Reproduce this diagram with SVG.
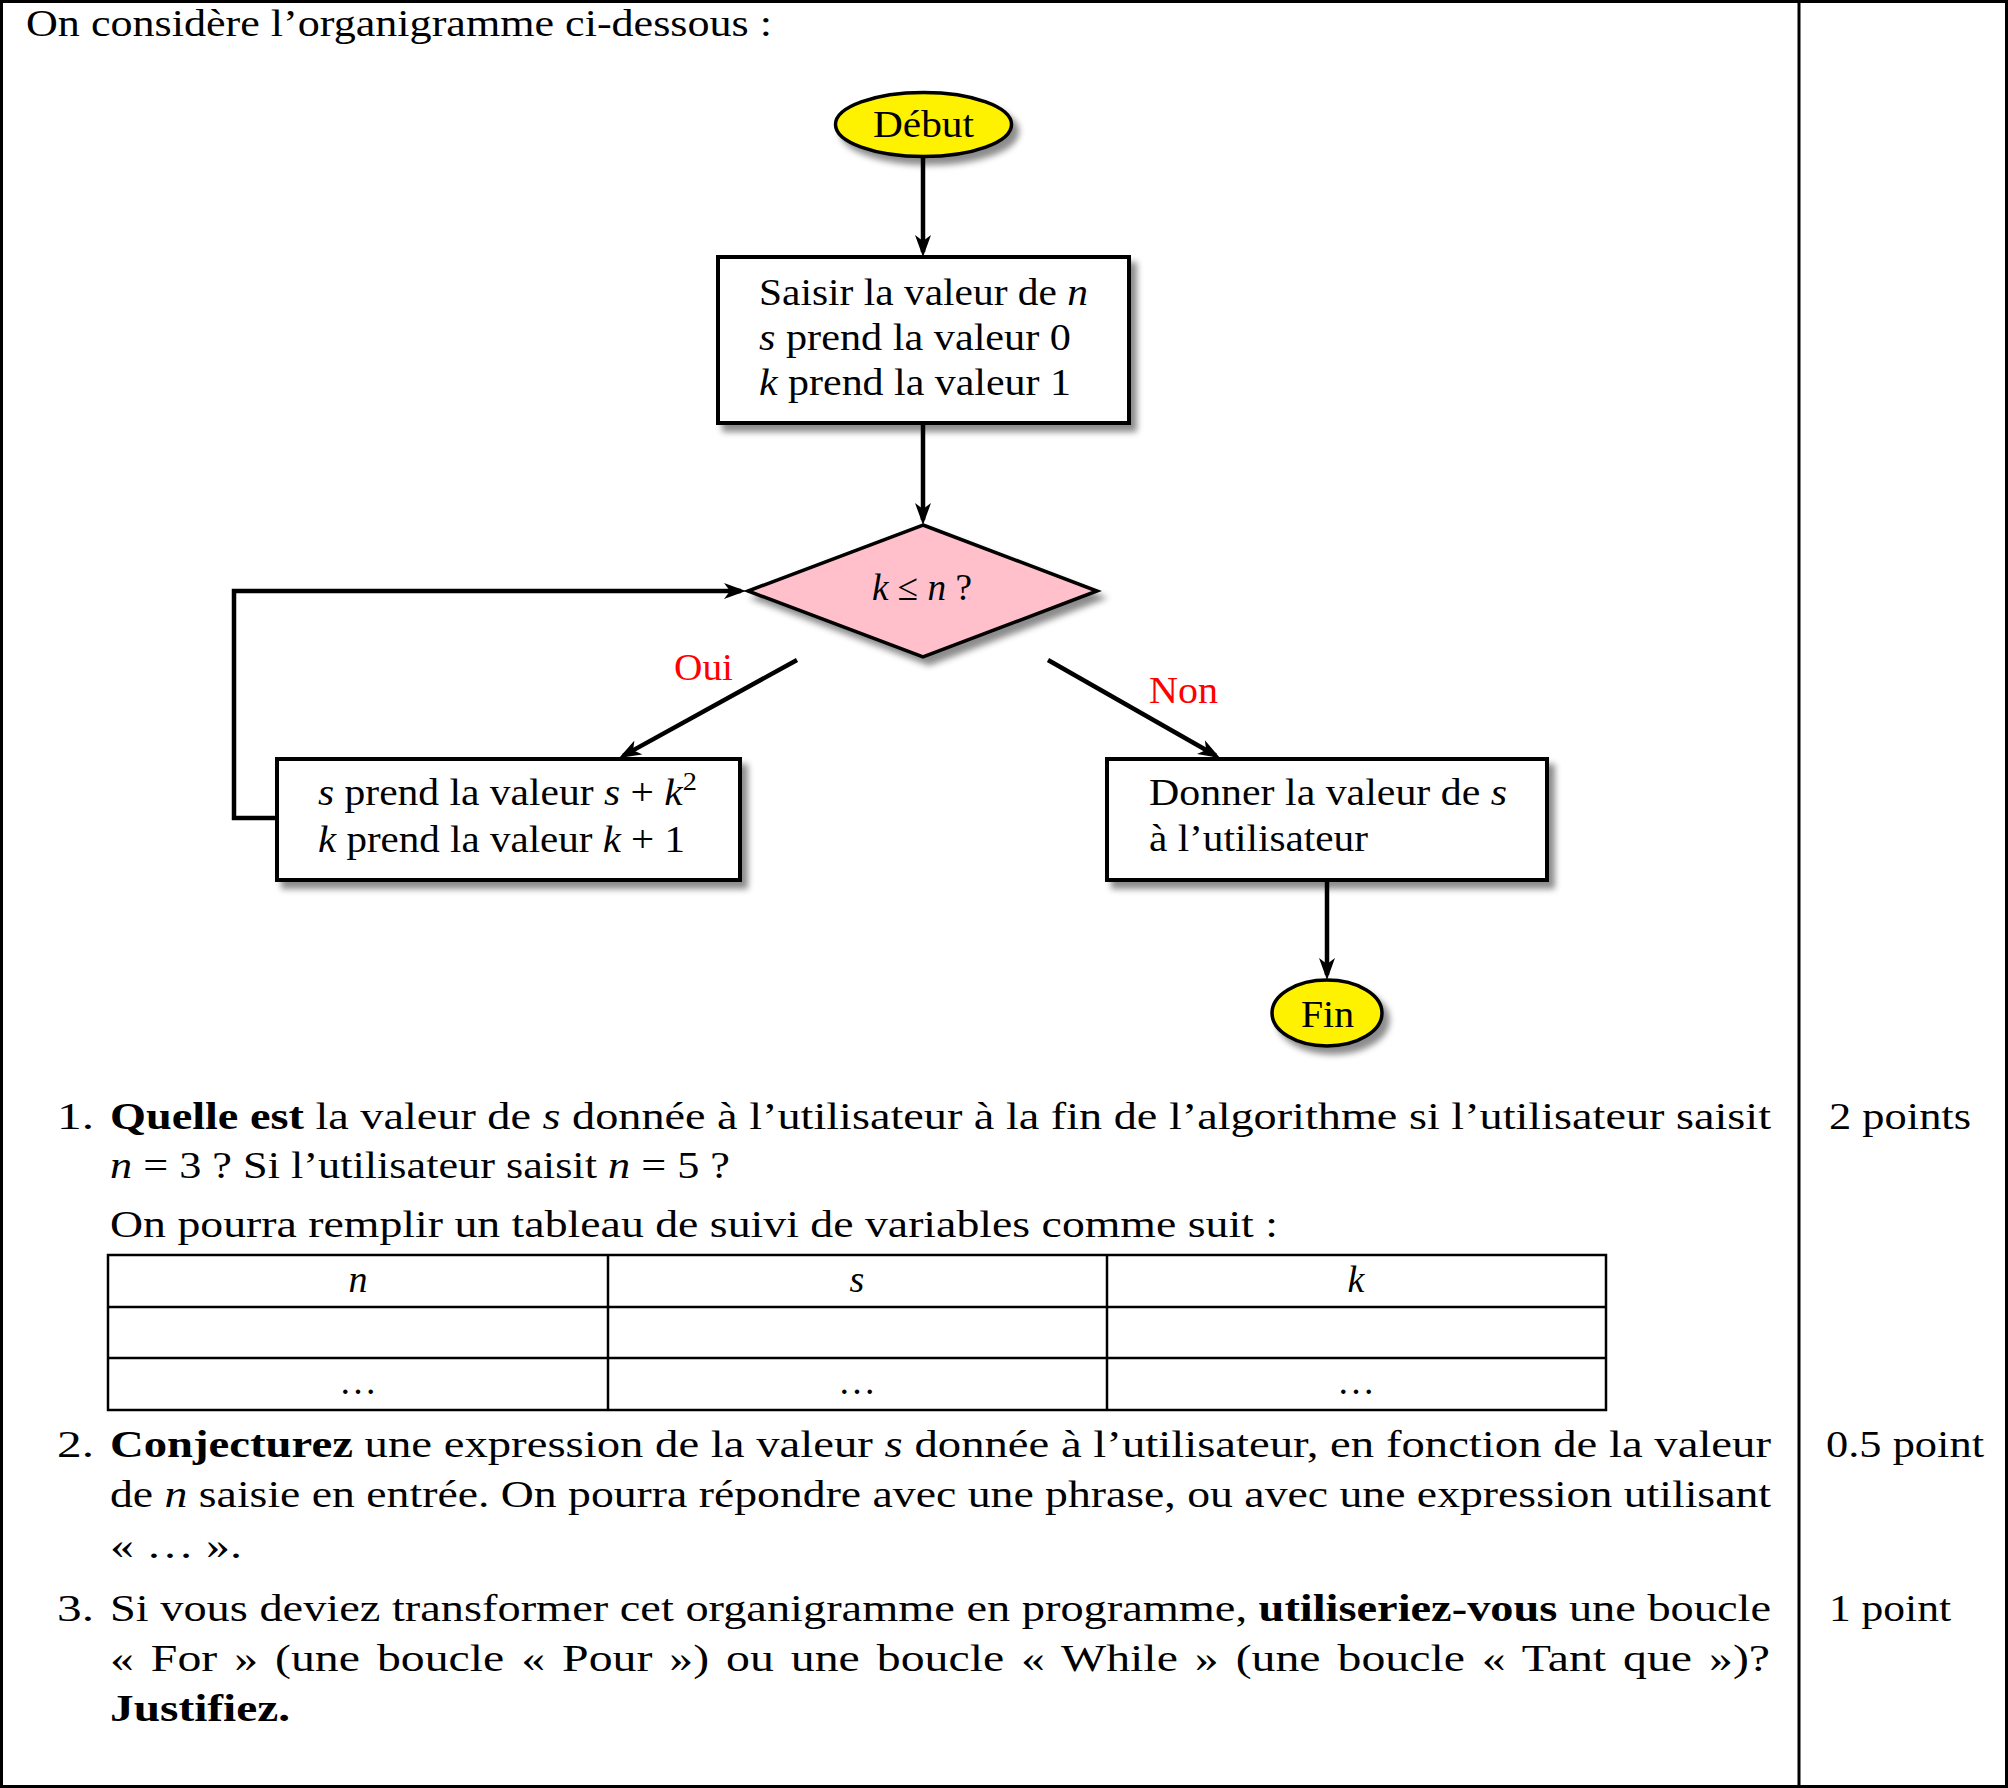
<svg xmlns="http://www.w3.org/2000/svg" width="2008" height="1788" viewBox="0 0 2008 1788">
<style>
text { font-family: "Liberation Serif", "Times New Roman", serif; fill: #000; font-size: 38px; }
.it { font-style: italic; }
.b { font-weight: bold; }
.red { fill: #ff0000; }
.box { fill: #fff; stroke: #000; stroke-width: 4; }
.term { fill: #fff200; stroke: #000; stroke-width: 3.5; }
.dec { fill: #ffc0cb; stroke: #000; stroke-width: 3.5; }
.conn { fill: none; stroke: #000; stroke-width: 4.5; }
.frame { fill: none; stroke: #000; stroke-width: 3; }
.grid { fill: none; stroke: #000; stroke-width: 2.5; }
</style>
<defs>
<filter id="sh" x="-10%" y="-10%" width="130%" height="145%">
<feDropShadow dx="6" dy="7" stdDeviation="3" flood-color="#000" flood-opacity="0.45"/>
</filter>
<marker id="arr" markerUnits="userSpaceOnUse" markerWidth="22" markerHeight="18" viewBox="0 -9 22 18" refX="17" refY="0" orient="auto">
<path d="M22,0 L0,-8 L6,0 L0,8 Z" fill="#000"/>
</marker>
</defs>

<g id="frame">
<rect class="frame" x="1.5" y="1.5" width="2005" height="1785"/>
<line class="frame" x1="1799" y1="0" x2="1799" y2="1788" stroke-width="2.5"/>
</g>

<text id="title" x="26" y="36" textLength="746" lengthAdjust="spacingAndGlyphs">On considère l’organigramme ci-dessous :</text>

<g id="connectors">
<line class="conn" x1="923" y1="157" x2="923" y2="252" marker-end="url(#arr)"/>
<line class="conn" x1="923" y1="423" x2="923" y2="520" marker-end="url(#arr)"/>
<polyline class="conn" points="277,818 234,818 234,591 741,591" marker-end="url(#arr)"/>
<line class="conn" x1="797" y1="660" x2="623.4" y2="755.6" marker-end="url(#arr)"/>
<line class="conn" x1="1048" y1="660" x2="1215.7" y2="755.5" marker-end="url(#arr)"/>
<line class="conn" x1="1327" y1="880" x2="1327" y2="975" marker-end="url(#arr)"/>
<text class="red" x="674" y="680" textLength="59" lengthAdjust="spacingAndGlyphs">Oui</text>
<text class="red" x="1149" y="703" textLength="69" lengthAdjust="spacingAndGlyphs">Non</text>
</g>

<g id="debut">
<ellipse class="term" cx="923.5" cy="124.5" rx="88" ry="32" filter="url(#sh)"/>
<text x="873" y="137" textLength="101" lengthAdjust="spacingAndGlyphs">Début</text>
</g>

<g id="init">
<rect class="box" x="718" y="257" width="411" height="166" filter="url(#sh)"/>
<text x="759" y="305" textLength="329" lengthAdjust="spacingAndGlyphs">Saisir la valeur de <tspan class="it">n</tspan></text>
<text x="759" y="350" textLength="312" lengthAdjust="spacingAndGlyphs"><tspan class="it">s</tspan> prend la valeur 0</text>
<text x="759" y="395" textLength="312" lengthAdjust="spacingAndGlyphs"><tspan class="it">k</tspan> prend la valeur 1</text>
</g>

<g id="condition">
<polygon class="dec" points="923,525 1097,591 923,657 748,591" filter="url(#sh)"/>
<text x="872" y="600" textLength="100" lengthAdjust="spacingAndGlyphs"><tspan class="it">k</tspan> ≤ <tspan class="it">n</tspan> ?</text>
</g>

<g id="loopbody">
<rect class="box" x="277" y="759" width="463" height="121" filter="url(#sh)"/>
<text x="318" y="805" textLength="379" lengthAdjust="spacingAndGlyphs"><tspan class="it">s</tspan> prend la valeur <tspan class="it">s</tspan> + <tspan class="it">k</tspan><tspan dy="-15" font-size="26">2</tspan></text>
<text x="318" y="852" textLength="367" lengthAdjust="spacingAndGlyphs"><tspan class="it">k</tspan> prend la valeur <tspan class="it">k</tspan> + 1</text>
</g>

<g id="output">
<rect class="box" x="1107" y="759" width="440" height="121" filter="url(#sh)"/>
<text x="1149" y="805" textLength="358" lengthAdjust="spacingAndGlyphs">Donner la valeur de <tspan class="it">s</tspan></text>
<text x="1149" y="851" textLength="219" lengthAdjust="spacingAndGlyphs">à l’utilisateur</text>
</g>

<g id="fin">
<ellipse class="term" cx="1327" cy="1013" rx="55" ry="33" filter="url(#sh)"/>
<text x="1301" y="1027" textLength="53" lengthAdjust="spacingAndGlyphs">Fin</text>
</g>

<g id="questions">
<text x="57" y="1129" textLength="37" lengthAdjust="spacingAndGlyphs">1.</text>
<text x="110" y="1129" textLength="1661" lengthAdjust="spacingAndGlyphs"><tspan class="b">Quelle est</tspan> la valeur de <tspan class="it">s</tspan> donnée à l’utilisateur à la fin de l’algorithme si l’utilisateur saisit</text>
<text x="110" y="1178" textLength="620" lengthAdjust="spacingAndGlyphs"><tspan class="it">n</tspan> = 3 ? Si l’utilisateur saisit <tspan class="it">n</tspan> = 5 ?</text>
<text x="110" y="1237" textLength="1168" lengthAdjust="spacingAndGlyphs">On pourra remplir un tableau de suivi de variables comme suit :</text>

<g id="table">
<rect class="grid" x="108" y="1255" width="1498" height="155"/>
<line class="grid" x1="108" y1="1307" x2="1606" y2="1307"/>
<line class="grid" x1="108" y1="1358" x2="1606" y2="1358"/>
<line class="grid" x1="608" y1="1255" x2="608" y2="1410"/>
<line class="grid" x1="1107" y1="1255" x2="1107" y2="1410"/>
<text class="it" x="358" y="1292" text-anchor="middle">n</text>
<text class="it" x="857" y="1292" text-anchor="middle">s</text>
<text class="it" x="1356" y="1292" text-anchor="middle">k</text>
<text x="358" y="1394" text-anchor="middle">…</text>
<text x="857" y="1394" text-anchor="middle">…</text>
<text x="1356" y="1394" text-anchor="middle">…</text>
</g>

<text x="57" y="1457" textLength="37" lengthAdjust="spacingAndGlyphs">2.</text>
<text x="110" y="1457" textLength="1661" lengthAdjust="spacingAndGlyphs"><tspan class="b">Conjecturez</tspan> une expression de la valeur <tspan class="it">s</tspan> donnée à l’utilisateur, en fonction de la valeur</text>
<text x="110" y="1507" textLength="1661" lengthAdjust="spacingAndGlyphs">de <tspan class="it">n</tspan> saisie en entrée. On pourra répondre avec une phrase, ou avec une expression utilisant</text>
<text x="110" y="1558" textLength="132" lengthAdjust="spacingAndGlyphs">« … ».</text>

<text x="57" y="1621" textLength="37" lengthAdjust="spacingAndGlyphs">3.</text>
<text x="110" y="1621" textLength="1661" lengthAdjust="spacingAndGlyphs">Si vous deviez transformer cet organigramme en programme, <tspan class="b">utiliseriez-vous</tspan> une boucle</text>
<text x="110" y="1671" textLength="1660" lengthAdjust="spacingAndGlyphs" word-spacing="4">«  For » (une boucle «  Pour ») ou une boucle «  While » (une boucle «  Tant que »)?</text>
<text class="b" x="110" y="1721" textLength="180" lengthAdjust="spacingAndGlyphs">Justifiez.</text>
</g>

<g id="points">
<text x="1829" y="1129" textLength="142" lengthAdjust="spacingAndGlyphs">2 points</text>
<text x="1826" y="1457" textLength="158" lengthAdjust="spacingAndGlyphs">0.5 point</text>
<text x="1829" y="1621" textLength="122" lengthAdjust="spacingAndGlyphs">1 point</text>
</g>
</svg>
